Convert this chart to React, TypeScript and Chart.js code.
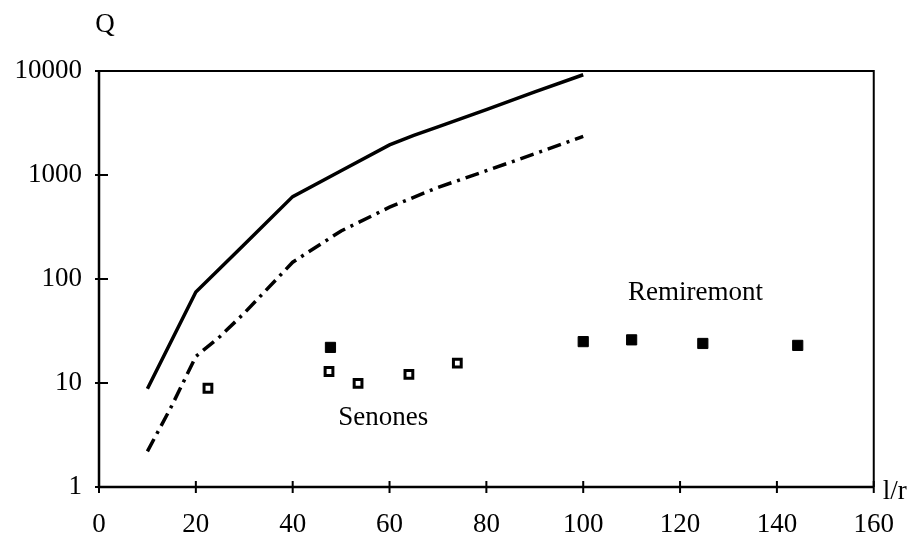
import React, { useEffect, useRef } from "react";
import { Chart, registerables } from "chart.js";

Chart.register(...registerables);

// Upper (solid) curve
const solidLR = [10, 20, 30, 40, 50, 60, 65, 70, 80, 90, 100];
const solidQ = [8.8, 75, 215, 620, 1100, 1950, 2400, 2900, 4250, 6300, 9200];

// Lower (dash-dot) curve
const dashLR = [10, 15, 20, 25, 30, 40, 50, 60, 70, 80, 90, 100];
const dashQ = [2.2, 6, 18, 28, 47, 145, 290, 490, 760, 1100, 1600, 2350];

// Open squares (Senones)
const senonesLR = [22.5, 47.5, 53.5, 64, 74];
const senonesQ = [8.9, 12.9, 9.9, 12.1, 15.5];

// Filled squares (Remiremont)
const remiremontLR = [47.8, 100, 110, 124.7, 144.3];
const remiremontQ = [22, 25, 26, 24, 23];

const yTickValues = [1, 10, 100, 1000, 10000];
const xMin = 0;
const xMax = 160;
const xStep = 20;

const textLabels = [
  { text: "Senones", x: 58.7, y: 4.6 },
  { text: "Remiremont", x: 123.2, y: 73 },
];
const yAxisTitle = "Q";
const xAxisTitle = "l/r";

const FONT_FAMILY = "'Liberation Serif', 'Times New Roman', serif";
const FONT_SIZE = 27;

const toPoints = (xs: number[], ys: number[]) => xs.map((x, i) => ({ x, y: ys[i] }));

const decorPlugin = {
  id: "decor",
  afterDraw(chart: any) {
    const { ctx, chartArea, scales } = chart;
    const xs = scales.x;
    const ys = scales.y;
    ctx.save();
    ctx.strokeStyle = "#000";
    ctx.lineCap = "butt";
    // frame
    ctx.lineWidth = 2;
    ctx.beginPath();
    ctx.moveTo(chartArea.left, chartArea.top);
    ctx.lineTo(chartArea.right, chartArea.top);
    ctx.lineTo(chartArea.right, chartArea.bottom);
    ctx.stroke();
    ctx.lineWidth = 2.5;
    ctx.beginPath();
    ctx.moveTo(chartArea.left, chartArea.top);
    ctx.lineTo(chartArea.left, chartArea.bottom);
    ctx.lineTo(chartArea.right, chartArea.bottom);
    ctx.stroke();
    // ticks crossing the axes
    ctx.lineWidth = 2;
    ctx.beginPath();
    ys.ticks.forEach((t: any) => {
      const py = ys.getPixelForValue(t.value);
      ctx.moveTo(chartArea.left - 4, py);
      ctx.lineTo(chartArea.left + 9, py);
    });
    xs.ticks.forEach((t: any) => {
      const px = xs.getPixelForValue(t.value);
      ctx.moveTo(px, chartArea.bottom - 6);
      ctx.lineTo(px, chartArea.bottom + 6);
    });
    ctx.stroke();
    // texts
    ctx.fillStyle = "#000";
    ctx.font = `${FONT_SIZE}px ${FONT_FAMILY}`;
    ctx.textAlign = "center";
    ctx.textBaseline = "middle";
    textLabels.forEach((l) => {
      ctx.fillText(l.text, xs.getPixelForValue(l.x), ys.getPixelForValue(l.y));
    });
    ctx.fillText(yAxisTitle, chartArea.left + 6, chartArea.top - 46);
    ctx.textAlign = "left";
    ctx.fillText(xAxisTitle, chartArea.right + 9, chartArea.bottom + 5);
    ctx.restore();
  },
};

export default function App() {
  const ref = useRef<HTMLCanvasElement | null>(null);

  useEffect(() => {
    if (!ref.current) return;
    const chart = new Chart(ref.current, {
      type: "scatter",
      data: {
        datasets: [
          {
            label: "upper",
            data: toPoints(solidLR, solidQ),
            showLine: true,
            borderColor: "#000",
            borderWidth: 3.5,
            pointRadius: 0,
            tension: 0,
          },
          {
            label: "lower",
            data: toPoints(dashLR, dashQ),
            showLine: true,
            borderColor: "#000",
            borderWidth: 3.5,
            borderDash: [14, 6, 3, 6],
            pointRadius: 0,
            tension: 0,
          },
          {
            label: "Senones",
            data: toPoints(senonesLR, senonesQ),
            showLine: false,
            pointStyle: "rect",
            pointRadius: 5.5,
            pointBorderWidth: 3,
            pointBorderColor: "#000",
            pointBackgroundColor: "#fff",
          },
          {
            label: "Remiremont",
            data: toPoints(remiremontLR, remiremontQ),
            showLine: false,
            pointStyle: "rect",
            pointRadius: 7.2,
            pointBorderWidth: 1,
            pointBorderColor: "#000",
            pointBackgroundColor: "#000",
          },
        ],
      },
      options: {
        responsive: false,
        animation: false,
        devicePixelRatio: 1,
        layout: { padding: { left: 0, top: 71, right: 38, bottom: 0 } },
        plugins: {
          legend: { display: false },
          tooltip: { enabled: false },
        },
        scales: {
          x: {
            type: "linear",
            min: xMin,
            max: xMax,
            ticks: {
              stepSize: xStep,
              color: "#000",
              padding: 22,
              maxRotation: 0,
              font: { family: FONT_FAMILY, size: FONT_SIZE },
            },
            grid: { display: true, drawOnChartArea: false, drawTicks: false },
            border: { display: false },
            afterFit: (s: any) => {
              s.height = 51;
            },
          },
          y: {
            type: "logarithmic",
            min: yTickValues[0],
            max: yTickValues[yTickValues.length - 1],
            afterBuildTicks: (s: any) => {
              s.ticks = yTickValues.map((v) => ({ value: v }));
            },
            ticks: {
              color: "#000",
              padding: 17,
              font: { family: FONT_FAMILY, size: FONT_SIZE },
              callback: (v: any) => String(v),
            },
            grid: { display: true, drawOnChartArea: false, drawTicks: false },
            border: { display: false },
            afterFit: (s: any) => {
              s.width = 99;
            },
          },
        },
      },
      plugins: [decorPlugin],
    });
    return () => chart.destroy();
  }, []);

  return (
    <div style={{ position: "fixed", left: 0, top: 0, width: 916, height: 538, background: "#fff" }}>
      <canvas ref={ref} width={916} height={538} style={{ display: "block" }} />
    </div>
  );
}
